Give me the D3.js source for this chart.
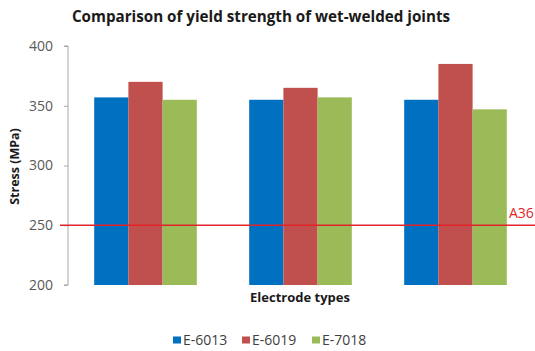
<!DOCTYPE html>
<html>
<head>
<meta charset="utf-8">
<script src="https://cdn.jsdelivr.net/npm/d3@7"></script>
<style>
  html, body { margin: 0; padding: 0; background: #fff; }
  svg { display: block; }
</style>
</head>
<body>
<svg id="chart" width="535" height="351"></svg>
<script>
// Yield strength of wet-welded joints, three test groups per electrode type
const groups = ["G1", "G2", "G3"];
const seriesNames = ["E-6013", "E-6019", "E-7018"];
const e6013 = [357, 355, 355];
const e6019 = [370, 365, 385];
const e7018 = [355, 357, 347];
const yTicks = [200, 250, 300, 350, 400];
const referenceValue = 250;
const referenceLabel = "A36";
const colors = ["#0070c0", "#c0504d", "#9bbb59"];

const seriesValues = [e6013, e6019, e7018];
const rows = groups.map((g, i) => ({
  group: g,
  values: seriesNames.map((s, j) => ({ key: s, value: seriesValues[j][i] }))
}));

const svg = d3.select("#chart");
const font = "'Open Sans', 'DejaVu Sans', sans-serif";

const plot = { left: 68, right: 533, top: 46, bottom: 285 };

const x0 = d3.scaleBand()
  .domain(groups)
  .range([plot.left, plot.right])
  .paddingInner(0.338)
  .paddingOuter(0.169);

const x1 = d3.scaleBand()
  .domain(seriesNames)
  .range([0, x0.bandwidth()]);

const y = d3.scaleLinear()
  .domain([200, 400])
  .range([plot.bottom, plot.top]);

const color = d3.scaleOrdinal().domain(seriesNames).range(colors);

// Title
svg.append("text")
  .attr("x", 261)
  .attr("y", 22)
  .attr("text-anchor", "middle")
  .attr("font-family", font)
  .attr("font-weight", "bold")
  .attr("font-size", 15.2)
  .attr("fill", "#1a1a1a")
  .text("Comparison of yield strength of wet-welded joints");

// Bars
svg.append("g")
  .selectAll("g")
  .data(rows)
  .join("g")
  .attr("transform", d => `translate(${x0(d.group)},0)`)
  .selectAll("rect")
  .data(d => d.values)
  .join("rect")
  .attr("x", d => x1(d.key))
  .attr("width", x1.bandwidth())
  .attr("y", d => y(d.value))
  .attr("height", d => y(200) - y(d.value))
  .attr("fill", d => color(d.key));

// Y axis
const yAxis = svg.append("g")
  .attr("transform", `translate(${plot.left},0)`)
  .call(d3.axisLeft(y).tickValues(yTicks).tickSize(4).tickPadding(11));
yAxis.select(".domain").attr("stroke", "#a6a6a6").attr("d", `M-4,${plot.top}H0V${plot.bottom}H-4`);
yAxis.selectAll(".tick line").attr("stroke", "#a6a6a6");
yAxis.selectAll(".tick text")
  .attr("font-family", font)
  .attr("font-size", 14)
  .attr("fill", "#595959");

// Y axis title
svg.append("text")
  .attr("transform", `translate(19,${(plot.top + plot.bottom) / 2 + 1}) rotate(-90)`)
  .attr("text-anchor", "middle")
  .attr("font-family", font)
  .attr("font-weight", "bold")
  .attr("font-size", 12.5)
  .attr("fill", "#1a1a1a")
  .text("Stress (MPa)");

// X axis title
svg.append("text")
  .attr("x", 300)
  .attr("y", 302)
  .attr("text-anchor", "middle")
  .attr("font-family", font)
  .attr("font-weight", "bold")
  .attr("font-size", 13)
  .attr("fill", "#1a1a1a")
  .text("Electrode types");

// Reference line
svg.append("line")
  .attr("x1", 60)
  .attr("x2", 535)
  .attr("y1", y(referenceValue))
  .attr("y2", y(referenceValue))
  .attr("stroke", "#e4222a")
  .attr("stroke-width", 1.5);

svg.append("text")
  .attr("x", 509)
  .attr("y", y(referenceValue) - 7)
  .attr("font-family", font)
  .attr("font-size", 14)
  .attr("fill", "#e4222a")
  .text(referenceLabel);

// Legend
const legendX = [173, 242, 312];
const legend = svg.append("g")
  .selectAll("g")
  .data(seriesNames)
  .join("g")
  .attr("transform", (d, i) => `translate(${legendX[i]},340)`);
legend.append("rect")
  .attr("x", 0)
  .attr("y", -3.5)
  .attr("width", 8)
  .attr("height", 7)
  .attr("fill", d => color(d));
legend.append("text")
  .attr("x", 10)
  .attr("y", 5)
  .attr("font-family", font)
  .attr("font-size", 14)
  .attr("fill", "#404040")
  .text(d => d);
</script>
</body>
</html>
